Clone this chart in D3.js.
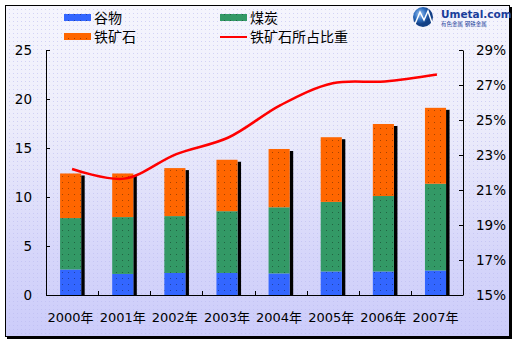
<!DOCTYPE html>
<html>
<head>
<meta charset="utf-8">
<script src="https://cdn.jsdelivr.net/npm/d3@7/dist/d3.min.js"></script>
<style>
  html, body { margin: 0; padding: 0; background: #ffffff; }
  svg { display: block; }
  text { font-family: "DejaVu Sans", "Noto Sans CJK SC", sans-serif; fill: #000; }
</style>
</head>
<body>
<svg id="chart" width="517" height="343"></svg>
<script>
// Annual import volumes (stacked bars, left axis) and iron ore share (line, right axis)
const years = ["2000年", "2001年", "2002年", "2003年", "2004年", "2005年", "2006年", "2007年"];
const grain = [2.6, 2.15, 2.25, 2.25, 2.2, 2.4, 2.4, 2.5];
const coal = [5.25, 5.8, 5.8, 6.3, 6.75, 7.1, 7.7, 8.85];
const ironOre = [4.55, 4.45, 4.9, 5.25, 5.95, 6.6, 7.35, 7.75];
const ironShare = [22.2, 21.65, 23.05, 24.0, 25.85, 27.1, 27.2, 27.6];
const leftTicks = [0, 5, 10, 15, 20, 25];
const rightTicks = [15, 17, 19, 21, 23, 25, 27, 29];

const seriesNames = ["谷物", "煤炭", "铁矿石"];
const seriesColors = ["#3366ff", "#339966", "#ff6600"];
const lineName = "铁矿石所占比重";
const lineColor = "#ff0000";

const svg = d3.select("#chart");
const defs = svg.append("defs");

// background gradient: white at the top fading into lavender
const bg = defs.append("linearGradient").attr("id", "bgGrad")
  .attr("x1", 0).attr("y1", 0).attr("x2", 0).attr("y2", 1);
bg.append("stop").attr("offset", "0%").attr("stop-color", "#f5f5fd");
bg.append("stop").attr("offset", "35%").attr("stop-color", "#ededfb");
bg.append("stop").attr("offset", "75%").attr("stop-color", "#d6d6fa");
bg.append("stop").attr("offset", "100%").attr("stop-color", "#ccccfa");

// fine dot texture over the background
const dots = defs.append("pattern").attr("id", "dots")
  .attr("width", 4).attr("height", 4).attr("patternUnits", "userSpaceOnUse");
dots.append("rect").attr("x", 1).attr("y", 1).attr("width", 1).attr("height", 1)
  .attr("fill", "#b8b8ee").attr("opacity", 0.55);

// darker speckles on the bar fills
seriesColors.forEach((c, i) => {
  const p = defs.append("pattern").attr("id", "barDots" + i)
    .attr("width", 6).attr("height", 6).attr("patternUnits", "userSpaceOnUse");
  p.append("rect").attr("width", 6).attr("height", 6).attr("fill", c);
  p.append("rect").attr("x", 2).attr("y", 2).attr("width", 1).attr("height", 1)
    .attr("fill", d3.color(c).darker(1.2));
});

// chart frame with drop shadow
svg.append("rect").attr("x", 7).attr("y", 7).attr("width", 505).attr("height", 332).attr("fill", "#000");
svg.append("rect").attr("x", 5.5).attr("y", 5.5).attr("width", 504).attr("height", 331)
  .attr("fill", "url(#bgGrad)").attr("stroke", "#000").attr("stroke-width", 1);
svg.append("rect").attr("x", 6).attr("y", 6).attr("width", 503).attr("height", 330)
  .attr("fill", "url(#dots)");

const plot = { left: 46, right: 463, top: 50, bottom: 295 };

const x = d3.scaleBand().domain(years).range([plot.left, plot.right]);
const yL = d3.scaleLinear().domain([0, 25]).range([plot.bottom, plot.top]);
const yR = d3.scaleLinear().domain([15, 29]).range([plot.bottom, plot.top]);

// stacked data
const rows = years.map((y, i) => ({ year: y, g: grain[i], c: coal[i], o: ironOre[i] }));
const stack = d3.stack().keys(["g", "c", "o"])(rows);

const bw = x.bandwidth();
const barX = d => x(d.data.year) + bw * 0.27;
const barW = bw * 0.405;

// bar shadows
const totals = rows.map(r => r.g + r.c + r.o);
svg.append("g").selectAll("rect").data(rows).join("rect")
  .attr("x", (d) => x(d.year) + bw * 0.27 + barW)
  .attr("y", (d, i) => yL(totals[i]) + 2)
  .attr("width", 3.5)
  .attr("height", (d, i) => plot.bottom - yL(totals[i]) - 2)
  .attr("fill", "#000");

svg.append("g").selectAll("g").data(stack).join("g")
  .attr("fill", (d, i) => `url(#barDots${i})`)
  .selectAll("rect").data(d => d).join("rect")
  .attr("x", barX)
  .attr("y", d => yL(d[1]))
  .attr("width", barW)
  .attr("height", d => yL(d[0]) - yL(d[1]));

// axes
const axisL = d3.axisLeft(yL).tickValues(leftTicks).tickSizeInner(-4).tickSizeOuter(0).tickPadding(14);
const axisR = d3.axisRight(yR).tickValues(rightTicks).tickFormat(d => d + "%").tickSizeInner(-4).tickSizeOuter(0).tickPadding(13);
const gL = svg.append("g").attr("transform", `translate(${plot.left},0)`).call(axisL);
const gR = svg.append("g").attr("transform", `translate(${plot.right},0)`).call(axisR);
[gL, gR].forEach(g => {
  g.select(".domain").attr("stroke", "#000");
  g.selectAll(".tick line").attr("stroke", "#000");
  g.selectAll("text").attr("font-size", 13.5).attr("font-family", "DejaVu Sans, sans-serif").attr("fill", "#000");
});

// category axis with ticks at band boundaries
const gX = svg.append("g");
gX.append("line").attr("x1", plot.left).attr("x2", plot.right)
  .attr("y1", plot.bottom + 0.5).attr("y2", plot.bottom + 0.5).attr("stroke", "#000");
gX.selectAll("line.tk").data(years.slice(1)).join("line").attr("class", "tk")
  .attr("x1", d => Math.round(x(d)) + 0.5).attr("x2", d => Math.round(x(d)) + 0.5)
  .attr("y1", plot.bottom).attr("y2", plot.bottom - 4).attr("stroke", "#000");
gX.selectAll("text").data(years).join("text")
  .attr("x", d => x(d) + bw / 2 - 1.5)
  .attr("y", 322)
  .attr("text-anchor", "middle")
  .attr("font-size", 13)
  .text(d => d);

// iron ore share line
const line = d3.line()
  .x((d, i) => x(years[i]) + bw / 2)
  .y(d => yR(d))
  .curve(d3.curveCatmullRom.alpha(0.5));
svg.append("path").datum(ironShare)
  .attr("d", line)
  .attr("fill", "none")
  .attr("stroke", lineColor)
  .attr("stroke-width", 2.5);

// legend
const legend = svg.append("g");
const legendItems = [
  { name: seriesNames[0], x: 64, y: 14, kind: "rect", i: 0 },
  { name: seriesNames[1], x: 220, y: 14, kind: "rect", i: 1 },
  { name: seriesNames[2], x: 64, y: 33, kind: "rect", i: 2 },
  { name: lineName, x: 220, y: 33, kind: "line" }
];
legendItems.forEach(it => {
  if (it.kind === "rect") {
    legend.append("rect").attr("x", it.x).attr("y", it.y)
      .attr("width", 27).attr("height", 7).attr("fill", `url(#barDots${it.i})`);
  } else {
    legend.append("line").attr("x1", it.x).attr("x2", it.x + 27)
      .attr("y1", it.y + 4).attr("y2", it.y + 4)
      .attr("stroke", lineColor).attr("stroke-width", 2);
  }
  legend.append("text").attr("x", it.x + 30).attr("y", it.y + 9)
    .attr("font-size", 14).attr("font-family", "Noto Sans CJK SC, sans-serif").text(it.name);
});

// site logo
const logo = svg.append("g").attr("transform", "translate(410,6)");
const globe = defs.append("radialGradient").attr("id", "globe").attr("cx", "35%").attr("cy", "35%");
globe.append("stop").attr("offset", "0%").attr("stop-color", "#9fc4f0");
globe.append("stop").attr("offset", "60%").attr("stop-color", "#2f6fc0");
globe.append("stop").attr("offset", "100%").attr("stop-color", "#123f86");
logo.append("circle").attr("cx", 13).attr("cy", 11).attr("r", 10).attr("fill", "url(#globe)");
logo.append("path").attr("d", "M5,18 L10,6 L14,14 L18,5 L22,17").attr("fill", "none")
  .attr("stroke", "#ffffff").attr("stroke-width", 1.5);
logo.append("text").attr("x", 31).attr("y", 12).attr("font-size", 10.5).attr("font-weight", "bold")
  .attr("font-family", "Liberation Serif, serif").style("fill", "#1a3d9a").text("Umetal.com");
logo.append("text").attr("x", 31).attr("y", 20).attr("font-size", 5.5)
  .attr("font-family", "Noto Sans CJK SC, sans-serif").style("fill", "#1a3d9a").text("有色金属  钢铁金属");
</script>
</body>
</html>
